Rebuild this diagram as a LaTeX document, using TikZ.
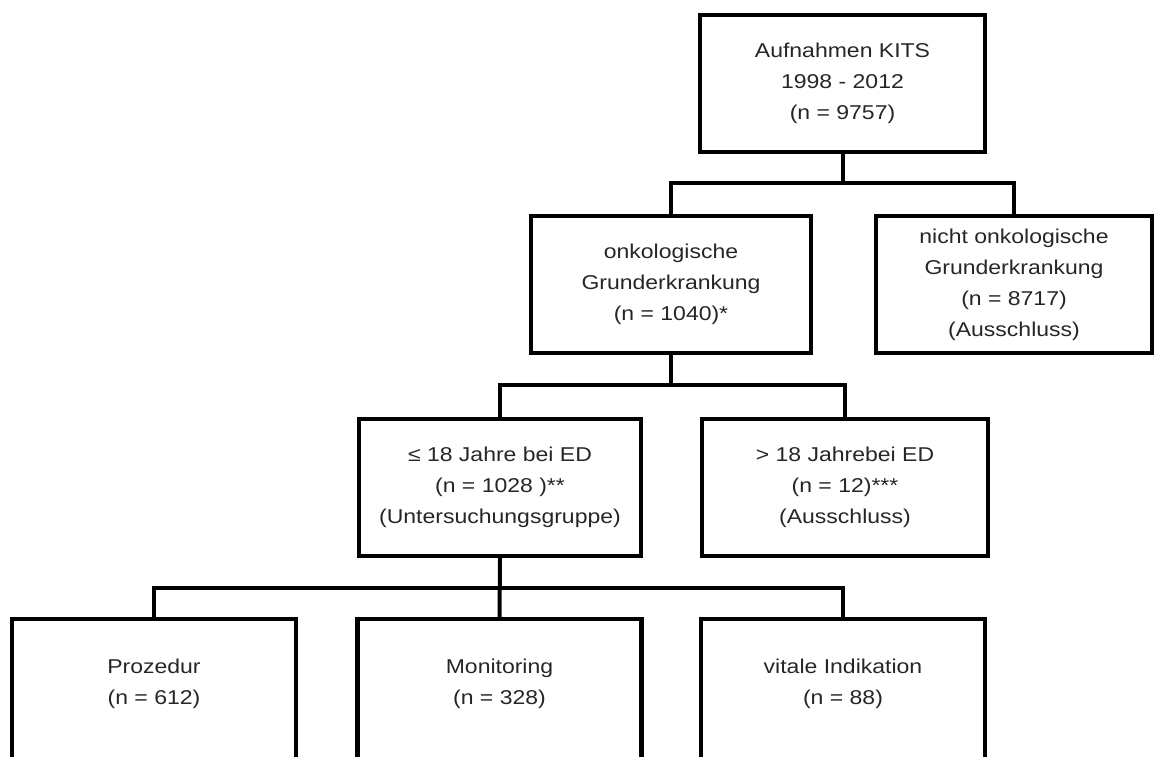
\documentclass[tikz,border=0pt]{standalone}
\usepackage{fontspec}
\setmainfont{Liberation Sans}[FakeStretch=1.15]
\usepackage{tikz}

\begin{document}
\begin{tikzpicture}[x=0.5pt, y=-0.5pt,
    box/.style={draw, line width=2.2pt, align=center, inner sep=0pt,
        minimum height=68.5pt, font=\fontsize{10pt}{15.5pt}\selectfont, text=black!85},
    leaf/.style={box, anchor=north, minimum height=0pt, inner ysep=20pt, text depth=60pt},
    conn/.style={line width=2pt}]
    \useasboundingbox (0,0) rectangle (1157,756);

    % Root: all admissions
    \node[box, minimum width=142.5pt] (root) at (842.5,83.5)
        {Aufnahmen KITS\\1998 - 2012\\(n = 9757)};

    % Level 1: oncological or not
    \node[box, minimum width=140pt] (onko) at (671,284.5)
        {onkologische\\Grunderkrankung\\(n = 1040)*};
    \node[box, minimum width=138pt] (nonko) at (1014,284.5)
        {nicht onkologische\\Grunderkrankung\\(n = 8717)\\(Ausschluss)};

    % Level 2: age at diagnosis
    \node[box, minimum width=141pt] (kids) at (500,487.5)
        {≤ 18 Jahre bei ED\\(n = 1028 )**\\(Untersuchungsgruppe)};
    \node[box, minimum width=143pt] (adults) at (845,487.5)
        {> 18 Jahrebei ED\\(n = 12)***\\(Ausschluss)};

    % Level 3: reason for admission (boxes run off the bottom)
    \node[leaf, minimum width=142pt] (proz) at (154,617) {Prozedur\\(n = 612)};
    \node[leaf, minimum width=142pt] (moni) at (499.5,617) {Monitoring\\(n = 328)};
    \node[leaf, minimum width=142pt] (vital) at (843,617) {vitale Indikation\\(n = 88)};

    % Connectors
    \coordinate (bus1) at (0,183);
    \coordinate (bus2) at (0,385);
    \coordinate (bus3) at (0,588);
    \draw[conn] (root.south) -- (root.south |- bus1);
    \draw[conn] (onko.north) -- (onko.north |- bus1) -- (nonko.north |- bus1) -- (nonko.north);
    \draw[conn] (onko.south) -- (onko.south |- bus2);
    \draw[conn] (kids.north) -- (kids.north |- bus2) -- (adults.north |- bus2) -- (adults.north);
    \draw[conn] (kids.south) -- (moni.north);
    \draw[conn] (proz.north) -- (proz.north |- bus3) -- (vital.north |- bus3) -- (vital.north);
\end{tikzpicture}
\end{document}
